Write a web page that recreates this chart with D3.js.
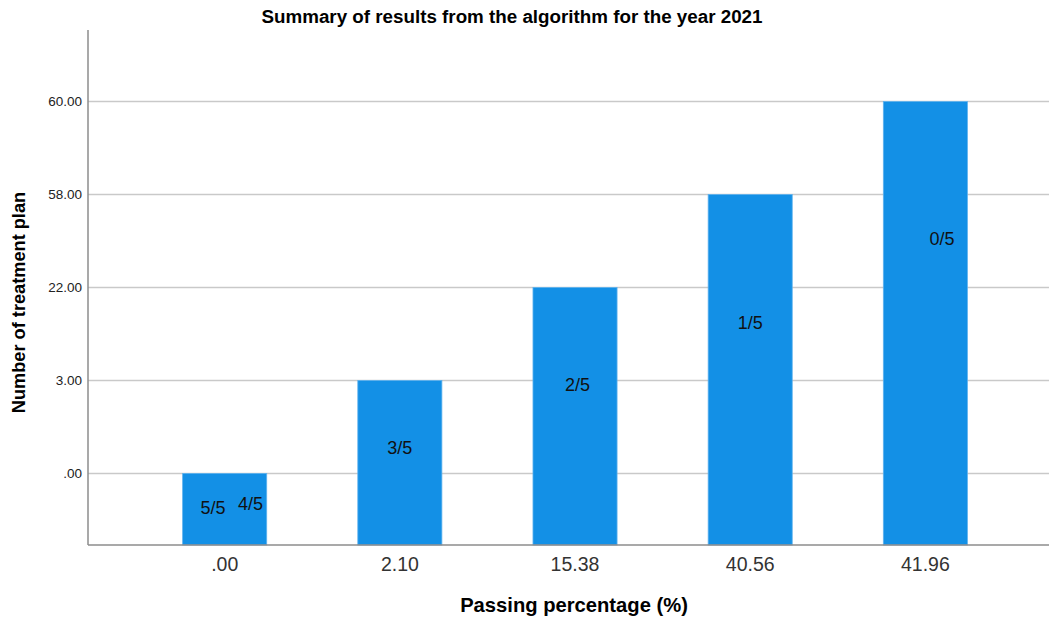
<!DOCTYPE html>
<html>
<head>
<meta charset="utf-8">
<script src="https://cdn.jsdelivr.net/npm/d3@7"></script>
<style>
  html, body { margin: 0; padding: 0; background: #fff; }
  svg { display: block; font-family: "Liberation Sans", Arial, sans-serif; }
</style>
</head>
<body>
<svg id="chart" width="1049" height="621"></svg>
<script>
// Passing percentage categories (x) and the treatment-plan count shown for each (y, ordinal)
const passingPct = [".00", "2.10", "15.38", "40.56", "41.96"];
const planCounts = [".00", "3.00", "22.00", "58.00", "60.00"];
// Y axis categories in display order, bottom to top
const countTicks = [".00", "3.00", "22.00", "58.00", "60.00"];

// Fraction labels and the bar each one sits in
const fracLabels = ["5/5", "4/5", "3/5", "2/5", "1/5", "0/5"];
const fracBars   = [".00", ".00", "2.10", "15.38", "40.56", "41.96"];
// Label placement relative to bar centre / bar top (px)
const fracDx = [-11.7, 25.8, 0, 2.5, 0, 16.7];
const fracDy = [34, 30, 67.5, 97.5, 128, 137];

const svg = d3.select("#chart");
const plotL = 88, plotR = 1049, plotT = 30, plotB = 545;

const x = d3.scaleBand()
  .domain(passingPct)
  .range([plotL, plotR])
  .paddingInner(0.52)
  .paddingOuter(0.503)
  .align(0.537);

const y = d3.scalePoint()
  .domain(countTicks)
  .range([plotB, plotT])
  .padding(0.77);

// Horizontal grid lines at each count category
svg.append("g")
  .selectAll("line")
  .data(countTicks)
  .join("line")
  .attr("x1", plotL).attr("x2", plotR)
  .attr("y1", d => y(d)).attr("y2", d => y(d))
  .attr("stroke", "#c9c9c9")
  .attr("stroke-width", 1.5);

// Bars
svg.append("g")
  .selectAll("rect")
  .data(passingPct)
  .join("rect")
  .attr("x", d => x(d))
  .attr("width", x.bandwidth())
  .attr("y", (d, i) => y(planCounts[i]))
  .attr("height", (d, i) => plotB - y(planCounts[i]))
  .attr("fill", "#1390e6")
  .attr("stroke", "#5fb2ee")
  .attr("stroke-width", 0.8);

// Axis lines
svg.append("line")
  .attr("x1", plotL).attr("x2", plotL)
  .attr("y1", plotT).attr("y2", plotB)
  .attr("stroke", "#8c8c8c").attr("stroke-width", 1.5);
svg.append("line")
  .attr("x1", plotL).attr("x2", plotR)
  .attr("y1", plotB).attr("y2", plotB)
  .attr("stroke", "#8c8c8c").attr("stroke-width", 1.5);

// Y axis tick labels
const yAxis = d3.axisLeft(y).tickSize(0).tickPadding(6);
const gy = svg.append("g").attr("transform", `translate(${plotL},0)`).call(yAxis);
gy.select(".domain").remove();
gy.selectAll("text")
  .attr("font-size", 13.5)
  .attr("fill", "#222")
  .attr("font-family", "'Liberation Sans', Arial, sans-serif");

// X axis tick labels
const xAxis = d3.axisBottom(x).tickSize(0).tickPadding(12);
const gx = svg.append("g").attr("transform", `translate(0,${plotB})`).call(xAxis);
gx.select(".domain").remove();
gx.selectAll("text")
  .attr("font-size", 19.5)
  .attr("fill", "#333")
  .attr("font-family", "'Liberation Sans', Arial, sans-serif");

// Fraction labels inside the bars
svg.append("g")
  .selectAll("text")
  .data(fracLabels)
  .join("text")
  .attr("x", (d, i) => x(fracBars[i]) + x.bandwidth() / 2 + fracDx[i])
  .attr("y", (d, i) => y(planCounts[passingPct.indexOf(fracBars[i])]) + fracDy[i])
  .attr("dy", "0.35em")
  .attr("text-anchor", "middle")
  .attr("font-size", 18)
  .attr("fill", "#111")
  .text(d => d);

// Title
svg.append("text")
  .attr("x", 512).attr("y", 23)
  .attr("text-anchor", "middle")
  .attr("font-size", 18.8)
  .attr("font-weight", "bold")
  .attr("fill", "#000")
  .text("Summary of results from the algorithm for the year 2021");

// Axis titles
svg.append("text")
  .attr("x", 574).attr("y", 612)
  .attr("text-anchor", "middle")
  .attr("font-size", 20.2)
  .attr("font-weight", "bold")
  .attr("fill", "#000")
  .text("Passing percentage (%)");

svg.append("text")
  .attr("transform", "translate(25,302.5) rotate(-90)")
  .attr("text-anchor", "middle")
  .attr("font-size", 18.2)
  .attr("font-weight", "bold")
  .attr("fill", "#000")
  .text("Number of treatment plan");
</script>
</body>
</html>
